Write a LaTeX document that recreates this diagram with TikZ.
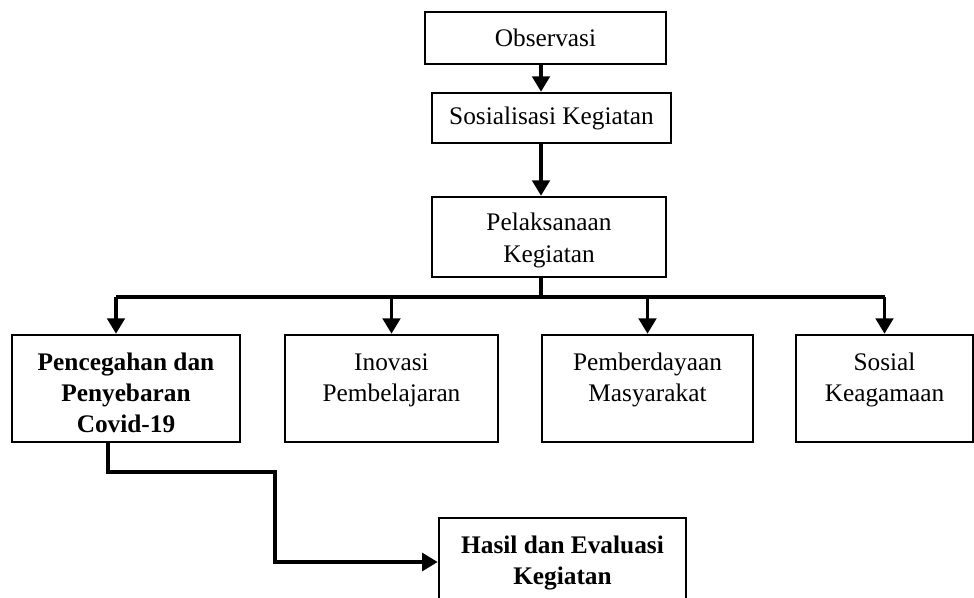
\documentclass[tikz,border=0pt]{standalone}
\usepackage{fontspec}
\setmainfont{Liberation Serif}
\usetikzlibrary{arrows.meta,positioning}

\tikzset{
  box/.style={draw,line width=1.8pt,inner sep=0pt},
  txt/.style={align=center,inner sep=0pt,font=\fontsize{18}{22}\selectfont},
  link/.style={line width=2.4pt},
  arr/.style={link,-{Triangle[length=11pt,width=12.5pt]}}
}

\begin{document}
\begin{tikzpicture}[x=0.025cm,y=-0.025cm]
    \useasboundingbox (0,0) rectangle (974,598);
    % top chain
    \node[box,txt,minimum width=6.025cm,minimum height=1.3cm] (obs) at (545.5,38) {Observasi};
    \node[box,txt,minimum width=5.975cm,minimum height=1.25cm] (sos) at (551.5,118) {Sosialisasi Kegiatan};
    \node[box,minimum width=5.85cm,minimum height=2cm] (pel) at (549,237) {};
    \node[txt,font=\fontsize{18}{23}\selectfont,below=0.42cm of pel.north] (tp) {Pelaksanaan\\Kegiatan};
    \coordinate (spine) at (541,0);
    \coordinate (bus) at (0,297);
    % activity boxes
    \node[box,minimum width=5.7cm,minimum height=2.675cm] (b1) at (126,388.5) {};
    \node[box,minimum width=5.325cm,minimum height=2.675cm] (b2) at (391.5,388.5) {};
    \node[box,minimum width=5.275cm,minimum height=2.675cm] (b3) at (647.5,388.5) {};
    \node[box,minimum width=4.425cm,minimum height=2.675cm] (b4) at (884.5,388.5) {};
    \node[txt,font=\fontsize{18}{22}\selectfont\bfseries,below=0.47cm of b1.north] (t1) {Pencegahan dan\\Penyebaran\\Covid-19};
    \node[txt,below=0.5cm of b2.north] (t2) {Inovasi\\Pembelajaran};
    \node[txt,below=0.47cm of b3.north] (t3) {Pemberdayaan\\Masyarakat};
    \node[txt,below=0.47cm of b4.north] (t4) {Sosial\\Keagamaan};
    % result
    \node[box,minimum width=6.175cm,minimum height=2.2cm] (hasil) at (562.5,562) {};
    \node[txt,font=\fontsize{18}{22}\selectfont\bfseries,below=0.47cm of hasil.north] (t5) {Hasil dan Evaluasi\\Kegiatan};
    % connectors
    \draw[arr] (obs.south -| spine) -- (sos.north -| spine);
    \draw[arr] (sos.south -| spine) -- (pel.north -| spine);
    \draw[link] (pel.south -| spine) -- (spine |- bus);
    \draw[link] ([xshift=-0.25cm]b1.north |- bus) -- (b4.north |- bus);
    \draw[arr] ([xshift=-0.25cm]b1.north |- bus) -- ([xshift=-0.25cm]b1.north);
    \draw[arr] (b2.north |- bus) -- (b2.north);
    \draw[arr] (b3.north |- bus) -- (b3.north);
    \draw[arr] (b4.north |- bus) -- (b4.north);
    \draw[arr] ([xshift=-0.45cm]b1.south) |- (275,472) |- (hasil.west);
\end{tikzpicture}
\end{document}
